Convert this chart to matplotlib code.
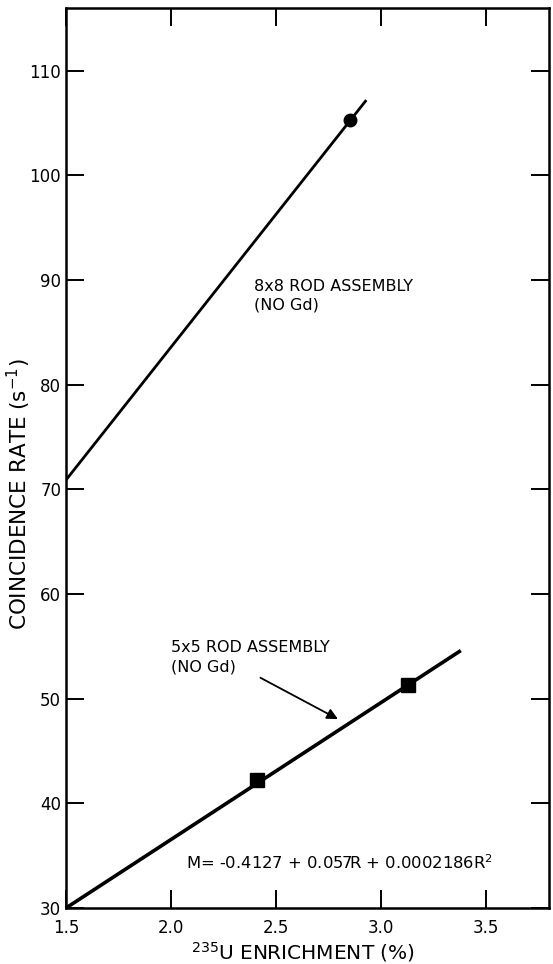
import matplotlib
matplotlib.use("Agg")
import matplotlib.pyplot as plt

# ---- data ----
rod8_line_x = [1.5, 2.93]
rod8_line_y = [70.9, 107.2]
rod8_pts_x = [2.85]
rod8_pts_y = [105.3]

rod5_line_x = [1.5, 3.38]
rod5_line_y = [30.0, 54.6]
rod5_pts_x = [2.41, 3.13]
rod5_pts_y = [42.2, 51.3]

x_ticks = [1.5, 2.0, 2.5, 3.0, 3.5]
x_tick_labels = ["1.5", "2.0", "2.5", "3.0", "3.5"]
y_ticks = [30, 40, 50, 60, 70, 80, 90, 100, 110]
y_tick_labels = ["30", "40", "50", "60", "70", "80", "90", "100", "110"]

label_8x8 = "8x8 ROD ASSEMBLY\n(NO Gd)"
label_5x5 = "5x5 ROD ASSEMBLY\n(NO Gd)"
formula = "M= -0.4127 + 0.057R + 0.0002186R$^2$"

plt.rcParams['font.family'] = ['DejaVu Sans']

fig = plt.figure(figsize=(5.53, 9.64), dpi=100)
ax = fig.add_axes([66/553, 56/964, (549-66)/553, (908-8)/964])

ax.plot(rod8_line_x, rod8_line_y, color='black', lw=2.0, solid_capstyle='butt')
ax.plot(rod8_pts_x, rod8_pts_y, 'o', color='black', ms=9)
ax.plot(rod5_line_x, rod5_line_y, color='black', lw=2.6, solid_capstyle='butt')
ax.plot(rod5_pts_x, rod5_pts_y, 's', color='black', ms=10)

ax.set_xlim(1.5, 3.8)
ax.set_ylim(30, 116)
ax.set_xticks(x_ticks)
ax.set_xticklabels(x_tick_labels)
ax.set_yticks(y_ticks)
ax.set_yticklabels(y_tick_labels)

ax.tick_params(axis='both', which='major', direction='in', length=13, width=1.4,
               top=True, right=True, labelsize=12, color='black')
ax.tick_params(axis='x', pad=8)
ax.tick_params(axis='y', pad=3.5)
for s in ax.spines.values():
    s.set_linewidth(1.8)

ax.set_xlabel("$^{235}$U ENRICHMENT (%)", fontsize=14.5)
ax.set_ylabel("COINCIDENCE RATE (s$^{-1}$)", fontsize=15.5)
ax.xaxis.set_label_coords(0.49, -0.049)
ax.yaxis.set_label_coords(-0.097, 0.46)
ax.xaxis.label.set_va('center')
ax.yaxis.label.set_va('center')

ax.text(2.395, 90.1, label_8x8, fontsize=11.5, va='top', ha='left', linespacing=1.3)
ax.text(2.00, 55.6, label_5x5, fontsize=11.5, va='top', ha='left', linespacing=1.35)
ax.annotate("", xy=(2.795, 48.05), xytext=(2.426, 52.0),
            arrowprops=dict(arrowstyle='-|>', color='black', lw=1.3,
                            mutation_scale=16, shrinkA=0, shrinkB=0))
ax.text(2.07, 34.3, formula, fontsize=11.8, va='center', ha='left')

fig.savefig("out.png", dpi=100)
